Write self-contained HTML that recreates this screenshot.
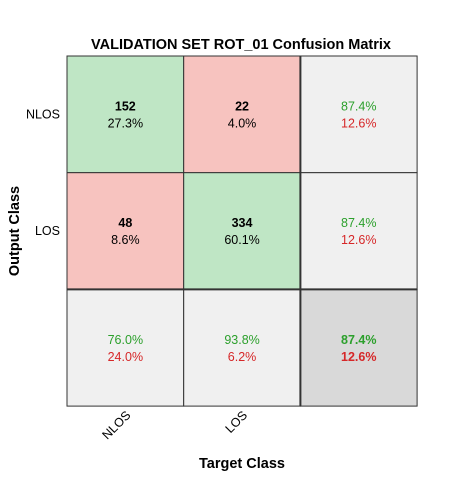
<!DOCTYPE html>
<html><head><meta charset="utf-8"><style>
html,body{margin:0;padding:0;background:#fff;width:461px;height:479px;overflow:hidden}
svg{display:block;font-family:"Liberation Sans",Arial,sans-serif}
</style></head><body>
<svg id="chart" width="461" height="479">
<text x="241" y="49" text-anchor="middle" font-size="14.5" font-weight="bold">VALIDATION SET ROT_01 Confusion Matrix</text>
<text x="242" y="468" text-anchor="middle" font-size="14.5" font-weight="bold">Target Class</text>
<text transform="translate(19,231) rotate(-90)" text-anchor="middle" font-size="14.5" font-weight="bold">Output Class</text>
<g id="cells"></g>
</svg>
<script>
const classes = ["NLOS", "LOS"];
const counts = [[152, 22], [48, 334]];
const cellPct = [["27.3%", "4.0%"], ["8.6%", "60.1%"]];
const rowPct = [["87.4%", "12.6%"], ["87.4%", "12.6%"]];
const colPct = [["76.0%", "24.0%"], ["93.8%", "6.2%"]];
const totalPct = ["87.4%", "12.6%"];

const NS = "http://www.w3.org/2000/svg";
const svg = document.getElementById("chart");
const g = document.getElementById("cells");
const x0 = 67, y0 = 56, cw = 116.7, ch = 116.7;
const cx = i => x0 + i * cw;
const cy = j => y0 + j * ch;
function mk(tag, attrs){const e=document.createElementNS(NS,tag);for(const k in attrs)e.setAttribute(k,attrs[k]);return e;}
function txt(x,y,s,fill,bold){const t=mk("text",{x:x,y:y,"text-anchor":"middle","font-size":12.5,fill:fill});if(bold)t.setAttribute("font-weight","bold");t.textContent=s;return t;}
const n = classes.length;
for(let r=0;r<=n;r++){
  for(let c=0;c<=n;c++){
    let fill;
    if(r<n&&c<n) fill = r===c ? "#bfe6c5" : "#f7c3bf";
    else if(r===n&&c===n) fill = "#d9d9d9";
    else fill = "#f0f0f0";
    const rect = mk("rect",{x:cx(c),y:cy(r),width:cw,height:ch,fill:fill,stroke:"#333","stroke-width":1});
    
    
    g.appendChild(rect);
    const mx = cx(c)+cw/2, my = cy(r)+ch/2;
    let a, b;
    if(r<n&&c<n){
      a = txt(mx,my-4,String(counts[r][c]),"#000",true);
      b = txt(mx,my+13,cellPct[r][c],"#000",false);
    } else if(r<n){
      a = txt(mx,my-4,rowPct[r][0],"#2ca02c",false);
      b = txt(mx,my+13,rowPct[r][1],"#d62728",false);
    } else if(c<n){
      a = txt(mx,my-4,colPct[c][0],"#2ca02c",false);
      b = txt(mx,my+13,colPct[c][1],"#d62728",false);
    } else {
      a = txt(mx,my-4,totalPct[0],"#2ca02c",true);
      b = txt(mx,my+13,totalPct[1],"#d62728",true);
    }
    
    
    
    
    g.appendChild(a); g.appendChild(b);
  }
}
const l1 = mk("line",{x1:cx(n),y1:y0,x2:cx(n),y2:cy(n+1),stroke:"#333","stroke-width":2});


g.appendChild(l1);
const l2 = mk("line",{x1:x0,y1:cy(n),x2:cx(n+1),y2:cy(n),stroke:"#333","stroke-width":2});


g.appendChild(l2);
classes.forEach((name,i)=>{
  const yl = mk("text",{x:60,y:cy(i)+ch/2+4,"text-anchor":"end","font-size":12.5});
  yl.textContent = name;
  
  
  svg.appendChild(yl);
  const px = cx(i)+cw/2+6, py = 416;
  const xl = mk("text",{x:px,y:py,"text-anchor":"end","font-size":12.5,transform:`rotate(-45 ${px} ${py})`});
  xl.textContent = name;
  
  
  svg.appendChild(xl);
});
</script>
</body></html>
